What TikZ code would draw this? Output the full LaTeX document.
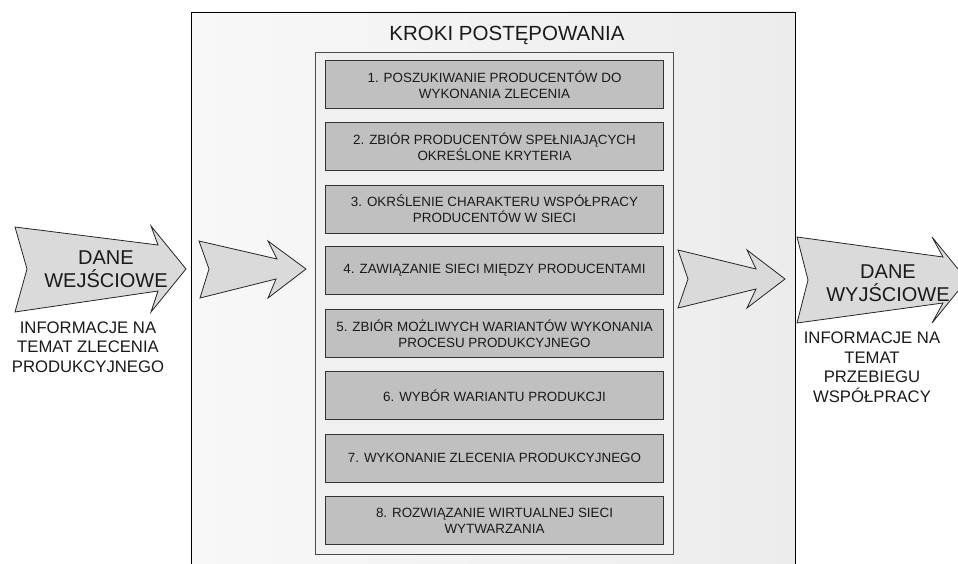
\documentclass[tikz,border=0pt]{standalone}
\usepackage{fontspec}
\setmainfont{Liberation Sans}
\definecolor{outerL}{HTML}{F8F8F8}
\definecolor{outerR}{HTML}{ECECEC}
\definecolor{innerfill}{HTML}{F0F0F0}
\definecolor{stepfill}{HTML}{C0C0C0}
\definecolor{arrowfill}{HTML}{DADADA}
\definecolor{txt}{HTML}{1A1A1A}
\tikzset{
  stepbox/.style={draw=black!80, line width=0.8pt, fill=stepfill, minimum width=338pt, minimum height=48pt,
    inner sep=0pt, align=center, text=txt, font=\fontsize{13.4}{16}\selectfont, anchor=north},
  fatarrow/.style={draw=black!85, line width=0.8pt, fill=arrowfill, line join=miter},
  arrowtext/.style={align=center, text=txt, font=\fontsize{20}{23}\selectfont, inner sep=0pt},
  captext/.style={align=center, text=txt, font=\fontsize{16.7}{19.5}\selectfont, inner sep=0pt},
  titletext/.style={text=txt, font=\fontsize{20.5}{24}\selectfont, inner sep=0pt}
}
\begin{document}
\begin{tikzpicture}[x=1pt, y=-1pt]
\useasboundingbox (0,0) rectangle (958,564);
\clip (0,0) rectangle (958,564);
% outer panel
\path[left color=outerL, right color=outerR] (191,12) rectangle (795,580);
\draw[line width=0.9pt, black] (191,580) -- (191,12) -- (795,12) -- (795,580);
% inner panel
\draw[line width=0.8pt, draw=black!70, fill=innerfill] (315.5,52) rectangle (673,554);
\node[titletext] (title) at (507,35) {KROKI POSTĘPOWANIA};
% steps
\node[stepbox] (s1) at (494.5,60) {1. POSZUKIWANIE PRODUCENTÓW DO\\WYKONANIA ZLECENIA};
\node[stepbox] (s2) at (494.5,122.3) {2. ZBIÓR PRODUCENTÓW SPEŁNIAJĄCYCH\\OKREŚLONE KRYTERIA};
\node[stepbox] (s3) at (494.5,184.6) {3. OKRŚLENIE CHARAKTERU WSPÓŁPRACY\\PRODUCENTÓW W SIECI};
\node[stepbox] (s4) at (494.5,246) {4. ZAWIĄZANIE SIECI MIĘDZY PRODUCENTAMI};
\node[stepbox] (s5) at (494.5,309) {5. ZBIÓR MOŻLIWYCH WARIANTÓW WYKONANIA\\PROCESU PRODUKCYJNEGO};
\node[stepbox] (s6) at (494.5,371.4) {6. WYBÓR WARIANTU PRODUKCJI};
\node[stepbox] (s7) at (494.5,433.7) {7. WYKONANIE ZLECENIA PRODUKCYJNEGO};
\node[stepbox] (s8) at (494.5,496) {8. ROZWIĄZANIE WIRTUALNEJ SIECI\\WYTWARZANIA};
% arrows
\draw[fatarrow] (15,227) -- (158,245) -- (151,226) -- (186,269) -- (151,312) -- (158,291) -- (15,312) -- (27,269) -- cycle;
\draw[fatarrow] (199,241) -- (277,259) -- (268,241) -- (306,269) -- (268,298) -- (276,279) -- (200,298) -- (209,269) -- cycle;
\draw[fatarrow] (678,250) -- (756,269) -- (747,250) -- (785,279) -- (747,308) -- (756,289) -- (678,308) -- (688,279) -- cycle;
\draw[fatarrow] (797,237) -- (943,257) -- (932,237) -- (967,280) -- (932,323) -- (943,303) -- (797,323) -- (808,280) -- cycle;
% arrow texts
\node[arrowtext] (inlbl) at (106,269.5) {DANE\\WEJŚCIOWE};
\node[arrowtext] (outlbl) at (888,283.5) {DANE\\WYJŚCIOWE};
\node[captext] (incap) at (88,347) {INFORMACJE NA\\TEMAT ZLECENIA\\PRODUKCYJNEGO};
\node[captext] (outcap) at (872,367) {INFORMACJE NA\\TEMAT\\PRZEBIEGU\\WSPÓŁPRACY};
\end{tikzpicture}
\end{document}
